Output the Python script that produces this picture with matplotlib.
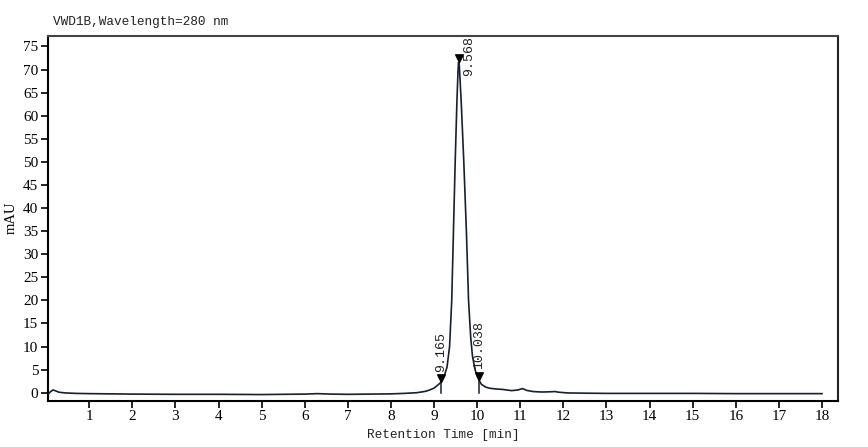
import matplotlib
matplotlib.use("Agg")
import matplotlib.pyplot as plt
from matplotlib.path import Path

# ---- data ----
times = [0.05, 0.10, 0.16, 0.22, 0.30, 0.45, 0.7, 1.0, 1.5, 2.0, 3.0, 4.0, 5.0, 5.5,
         6.0, 6.3, 6.6, 7.0, 7.5, 8.0, 8.3, 8.6, 8.8, 8.9, 9.0, 9.08, 9.165, 9.23,
         9.30, 9.36, 9.41, 9.45, 9.49, 9.53, 9.555, 9.568, 9.585, 9.63, 9.69, 9.75,
         9.80, 9.85, 9.89, 9.95, 10.0, 10.038, 10.1, 10.2, 10.3, 10.45, 10.6, 10.8,
         10.95, 11.05, 11.15, 11.3, 11.5, 11.7, 11.8, 11.9, 12.1, 12.5, 13, 14, 15,
         16, 17, 18]
signal = [-0.3, 0.2, 0.6, 0.4, 0.1, -0.05, -0.15, -0.2, -0.25, -0.3, -0.35, -0.35,
          -0.4, -0.35, -0.3, -0.2, -0.3, -0.35, -0.3, -0.25, -0.15, 0.0, 0.3, 0.6,
          1.0, 1.6, 2.3, 3.5, 5.5, 10, 20, 35, 50, 63, 69.5, 71.6, 71.0, 63, 50, 35,
          20, 12, 8, 5, 3.6, 2.8, 1.8, 1.2, 0.95, 0.8, 0.7, 0.45, 0.6, 0.9, 0.5,
          0.25, 0.15, 0.2, 0.25, 0.1, -0.05, -0.1, -0.15, -0.15, -0.15, -0.2, -0.2,
          -0.2]

peak_times = [9.165, 9.568, 10.038]
peak_heights = [2.3, 71.6, 2.8]
peak_labels = ["9.165", "9.568", "10.038"]
drop_times = [9.165, 10.038]
drop_heights = [2.3, 2.8]

x_ticks = list(range(1, 19))
y_ticks = list(range(0, 80, 5))

title_text = "VWD1B,Wavelength=280 nm"
x_label = "Retention Time [min]"
y_label = "mAU"

# ---- figure ----
fig = plt.figure(figsize=(8.68, 4.47), dpi=100)
ax = fig.add_axes([0.0553, 0.104, 0.9101, 0.8155])

line_col = "#16202e"
ax.plot(times, signal, color=line_col, lw=1.2, zorder=3)

# drop lines to baseline
for t, h in zip(drop_times, drop_heights):
    ax.plot([t, t], [0, h], color=line_col, lw=1.1, zorder=3)

# down-pointing triangle whose tip is at the data point
tri = Path([(-0.5, 1.0), (0.5, 1.0), (0.0, 0.0), (-0.5, 1.0)],
           [Path.MOVETO, Path.LINETO, Path.LINETO, Path.CLOSEPOLY])
ax.plot(peak_times, peak_heights, linestyle="none", marker=tri, markersize=11,
        color="black", zorder=4)

mono = "Liberation Mono"
serif = "Liberation Serif"
for t, h, lab in zip(peak_times, peak_heights, peak_labels):
    if lab == "9.568":
        off = (7.5, -10)
    else:
        off = (0, 7.5)
    ax.annotate(lab, (t, h), xytext=off, textcoords="offset points",
                rotation=90, ha="center", va="bottom", fontsize=9.5,
                family=mono, color="#222222", zorder=5)

ax.set_xlim(0.044, 18.37)
ax.set_ylim(-1.69, 77.27)
ax.set_xticks(x_ticks)
ax.set_yticks(y_ticks)
ax.set_xticklabels([str(v) for v in x_ticks], family=serif, fontsize=11)
ax.set_yticklabels([str(v) for v in y_ticks], family=serif, fontsize=11)
ax.tick_params(direction="out", length=5, width=1.2, pad=2, colors="black")

for s in ax.spines.values():
    s.set_linewidth(1.5)
    s.set_color("black")
ax.spines["top"].set_color("#444444")
ax.spines["right"].set_color("#222222")

fig.text(53 / 868, 1 - 22 / 447, title_text, family=mono, fontsize=9.2,
         ha="left", va="center", color="#222222")
ax.set_xlabel(x_label, family=mono, fontsize=9.2, color="#222222", labelpad=4)
ax.set_ylabel(y_label, family=serif, fontsize=10.5, color="black", labelpad=4)

fig.savefig("out.png", dpi=100)
